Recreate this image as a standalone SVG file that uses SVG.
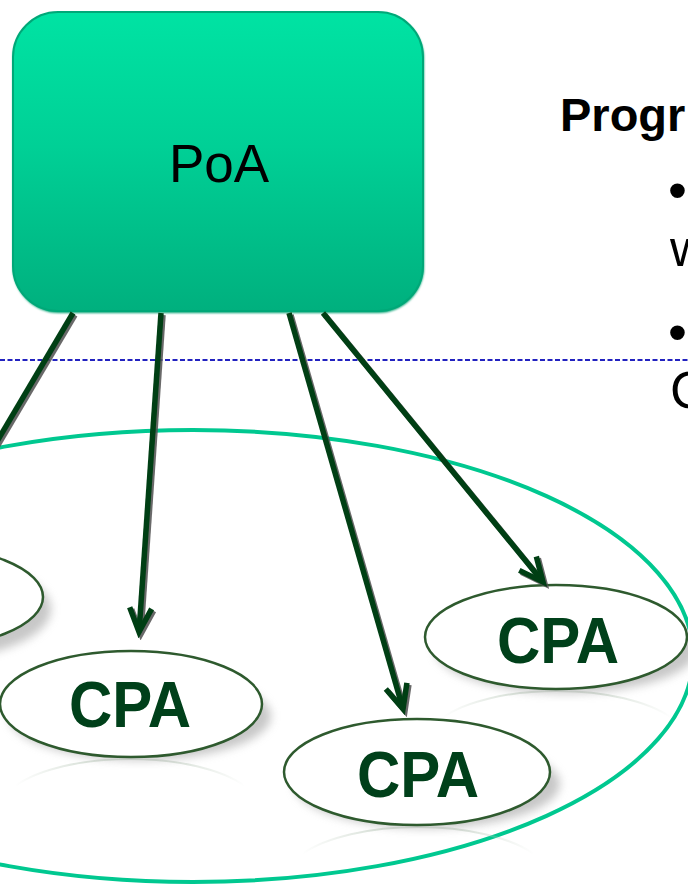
<svg xmlns="http://www.w3.org/2000/svg" width="688" height="885" viewBox="0 0 688 885">
<defs>
<linearGradient id="boxg" x1="0" y1="0" x2="0" y2="1">
<stop offset="0" stop-color="#00e3a3"/>
<stop offset="0.45" stop-color="#00d096"/>
<stop offset="1" stop-color="#00b07e"/>
</linearGradient>
<linearGradient id="refl" x1="0" y1="0" x2="1" y2="0">
<stop offset="0" stop-color="#b8c8b8" stop-opacity="0"/>
<stop offset="0.3" stop-color="#b8c8b8" stop-opacity="0.5"/>
<stop offset="0.7" stop-color="#b8c8b8" stop-opacity="0.5"/>
<stop offset="1" stop-color="#b8c8b8" stop-opacity="0"/>
</linearGradient>
<filter id="blur" x="-20%" y="-50%" width="140%" height="200%">
<feGaussianBlur stdDeviation="5"/>
</filter>
<filter id="boxsh" x="-5%" y="-5%" width="110%" height="110%">
<feGaussianBlur stdDeviation="1"/>
</filter>
<marker id="ah" viewBox="-30 -15 36 30" refX="0" refY="0" markerWidth="36" markerHeight="30" markerUnits="userSpaceOnUse" orient="auto">
<polyline points="-24,-11 0,0 -24,11" fill="none" stroke="#003f14" stroke-width="5.5" stroke-linejoin="miter"/>
</marker>
<marker id="ahs" viewBox="-30 -15 36 30" refX="0" refY="0" markerWidth="36" markerHeight="30" markerUnits="userSpaceOnUse" orient="auto">
<polyline points="-24,-11 0,0 -24,11" fill="none" stroke="#505050" stroke-width="5.5" stroke-linejoin="miter"/>
</marker>
</defs>
<style>
.cpa{fill:#ffffff;stroke:#2e5a2e;stroke-width:2.5}
.cpat{font-family:"Liberation Sans",Arial,sans-serif;font-weight:bold;font-size:60px;fill:#00401a;text-anchor:middle}
.sh{fill:#9a9a9a;opacity:0.55;filter:url(#blur)}
.rf{fill:none;stroke:url(#refl);stroke-width:2}
.ln{fill:none;stroke:#003f14;stroke-width:5.5;marker-end:url(#ah)}
.lns{fill:none;stroke:#505050;stroke-width:5.5;marker-end:url(#ahs);opacity:0.85}
.txt{font-family:"Liberation Sans",Arial,sans-serif;fill:#000000}
</style>
<rect width="688" height="885" fill="#ffffff"/>

<g id="scope">
<ellipse cx="193" cy="656" rx="500" ry="226" fill="none" stroke="#00c890" stroke-width="4"/>
</g>

<g id="divider">
<line x1="0" y1="360" x2="688" y2="360" stroke="#2222c0" stroke-width="1.8" stroke-dasharray="5 2.5"/>
</g>

<g id="poa">
<rect x="13" y="13" width="411" height="300" rx="46" ry="46" fill="#00a070" filter="url(#boxsh)"/>
<rect x="13" y="12" width="410" height="299" rx="45" ry="45" fill="url(#boxg)" stroke="#00a878" stroke-width="2"/>
<text x="219" y="182" class="txt" font-size="53" text-anchor="middle">PoA</text>
</g>

<g id="cpa0">
<ellipse cx="-80" cy="609" rx="131" ry="52" class="sh"/>
<ellipse cx="-88" cy="597" rx="131" ry="52" class="cpa"/>
</g>

<g id="cpa1">
<path d="M15,786 A131,52 0 0 1 245,786" class="rf"/>
<ellipse cx="140" cy="716" rx="131" ry="44" class="sh"/>
<ellipse cx="131" cy="704" rx="131" ry="53" class="cpa"/>
<text class="cpat" transform="translate(130,727) scale(1,1.08)">CPA</text>
</g>

<g id="cpa2">
<path d="M302,854 A133,53 0 0 1 534,854" class="rf"/>
<ellipse cx="427" cy="784" rx="133" ry="44" class="sh"/>
<ellipse cx="417" cy="772" rx="133" ry="53" class="cpa"/>
<text class="cpat" transform="translate(418,797) scale(1,1.08)">CPA</text>
</g>

<g id="cpa3">
<path d="M442,718 A131,52 0 0 1 672,718" class="rf"/>
<ellipse cx="566" cy="649" rx="131" ry="44" class="sh"/>
<ellipse cx="556" cy="637" rx="131" ry="52" class="cpa"/>
<text class="cpat" transform="translate(558,663) scale(1,1.08)">CPA</text>
</g>

<g id="connectors">
<g transform="translate(2,2)">
<line x1="73" y1="313" x2="-66" y2="548" class="lns"/>
<line x1="161" y1="313" x2="139" y2="632" class="lns"/>
<line x1="289" y1="313" x2="403" y2="709" class="lns"/>
<line x1="323" y1="313" x2="543" y2="582" class="lns"/>
</g>
<line x1="73" y1="313" x2="-66" y2="548" class="ln"/>
<line x1="161" y1="313" x2="139" y2="632" class="ln"/>
<line x1="289" y1="313" x2="403" y2="709" class="ln"/>
<line x1="323" y1="313" x2="543" y2="582" class="ln"/>
</g>

<g id="textpanel">
<text x="560" y="131" class="txt" font-size="47" font-weight="bold">Progr</text>
<text x="668" y="209" class="txt" font-size="54">•</text>
<text x="670" y="266" class="txt" font-size="52">w</text>
<text x="668" y="351" class="txt" font-size="54">•</text>
<text x="670" y="408" class="txt" font-size="52">C</text>
</g>
</svg>
